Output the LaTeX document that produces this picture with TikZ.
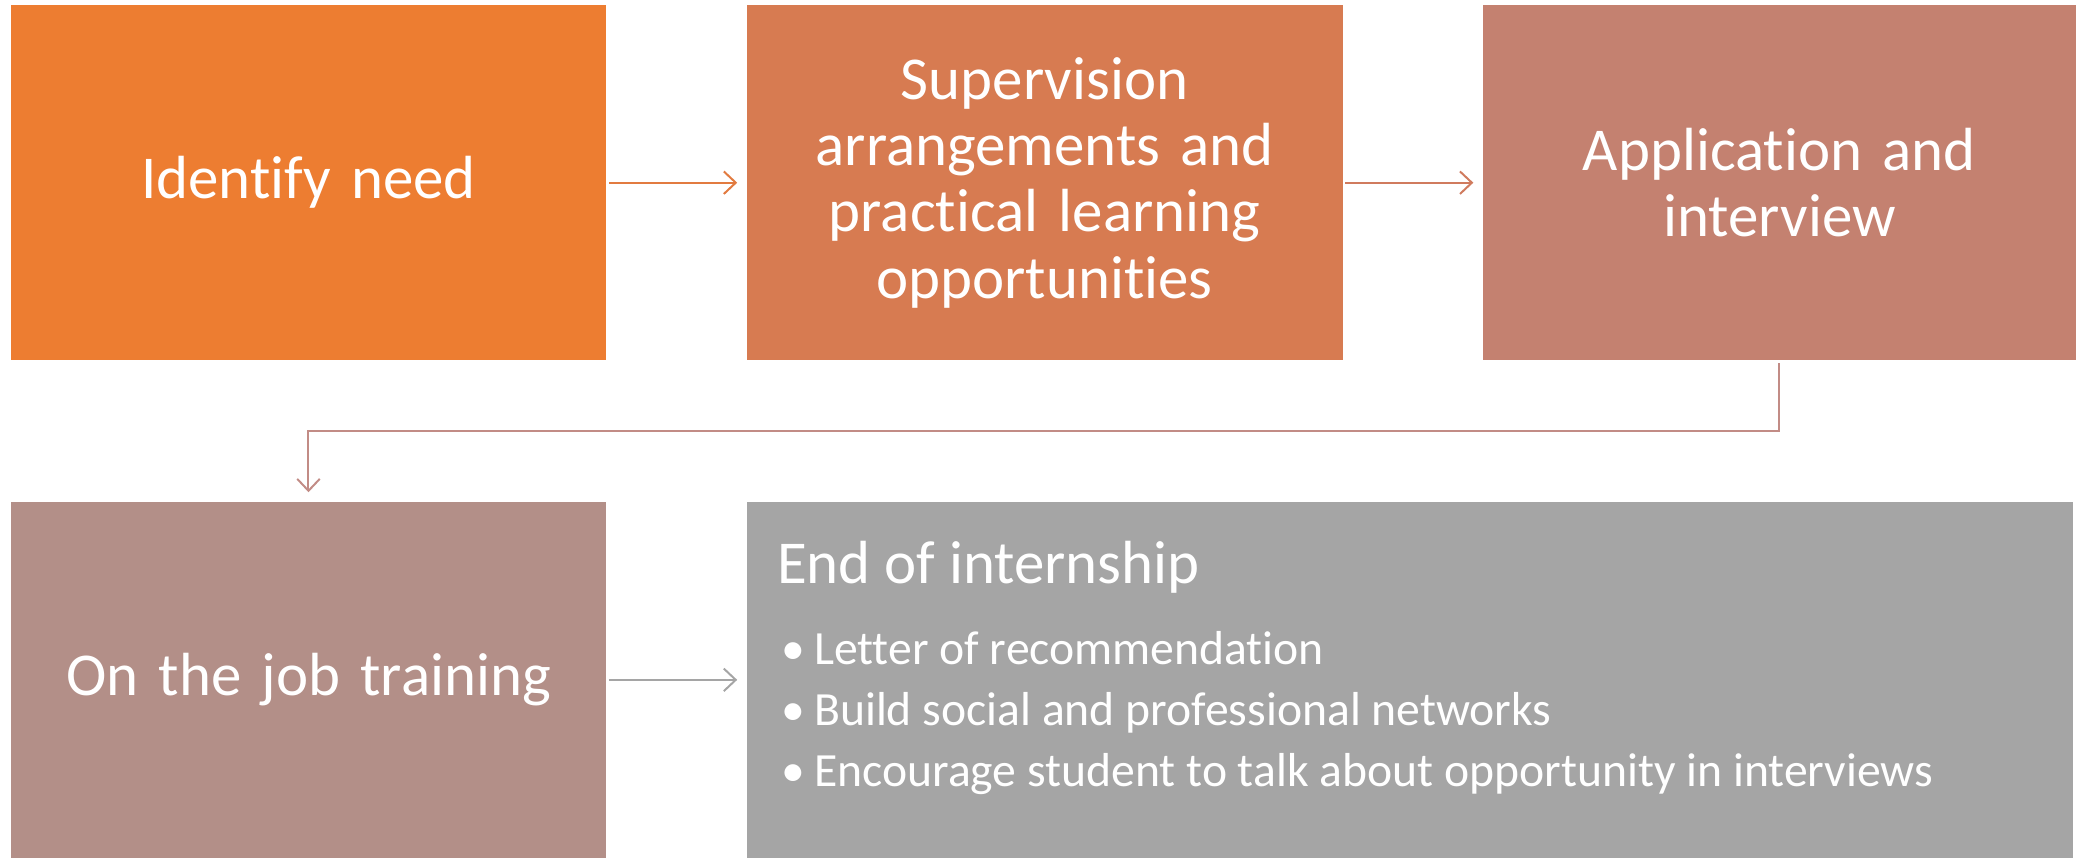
\documentclass[tikz,border=0pt]{standalone}
\usepackage{fontspec}
\setmainfont{Carlito}[Ligatures=CommonOff]
\usetikzlibrary{arrows.meta}

\definecolor{cNeed}{HTML}{ED7D31}
\definecolor{cSuper}{HTML}{D77B51}
\definecolor{cAppl}{HTML}{C48170}
\definecolor{cTrain}{HTML}{B38F88}
\definecolor{cEnd}{HTML}{A5A5A5}
\definecolor{cArrA}{HTML}{E27B40}
\definecolor{cArrB}{HTML}{D07B5E}
\definecolor{cArrC}{HTML}{C28C86}

\begin{document}
\begin{tikzpicture}[
    x=1pt, y=1pt,
    stage/.style={rectangle, minimum width=450pt, minimum height=268pt, inner sep=0pt, text width=430pt, align=center, text=white, font=\fontsize{46}{50}\selectfont},
    itemtext/.style={inner sep=0pt, text=white, font=\fontsize{36}{42}\selectfont},
    flow/.style={line width=1.5pt, -{Straight Barb[length=9pt, width=17pt]}, shorten <=2pt, shorten >=7pt}
  ]
    \useasboundingbox (0,0) rectangle (1568,648);

    % Top row
    \node[stage, fill=cNeed] (need) at (233,510) {Identify need};
    \node[stage, fill=cSuper] (superv) at (789,510) {Supervision\\arrangements and\\practical learning\\opportunities};
    \node[stage, fill=cAppl, minimum width=448pt] (appl) at (1344,510) {Application and\\interview};

    % Bottom row
    \node[stage, fill=cTrain, minimum height=269pt] (train) at (233,134.5) {On the job training};
    \node[stage, fill=cEnd, minimum width=1002pt, minimum height=269pt] (endint) at (1065,134.5) {};

    % End of internship text
    \node[itemtext, anchor=base west, font=\fontsize{46}{50}\selectfont] (endtitle) at ([xshift=23pt, yshift=-62pt]endint.north west) {End of internship};
    \foreach \txt [count=\i] in {Letter of recommendation, Build social and professional networks, Encourage student to talk about opportunity in interviews} {
      \node[itemtext, anchor=base west] (item\i) at ([xshift=26pt, yshift={-77pt-46pt*\i}]endint.north west) {\textbullet\hspace{7pt}\txt};
    }

    % Arrows
    \draw[flow, cArrA] (need) -- (superv);
    \draw[flow, cArrB] (superv) -- (appl);
    \draw[flow, cArrC] (appl.south) -- ++(0,-53) -| (train.north);
    \draw[flow, cEnd] (train) -- (endint);
  \end{tikzpicture}
\end{document}
